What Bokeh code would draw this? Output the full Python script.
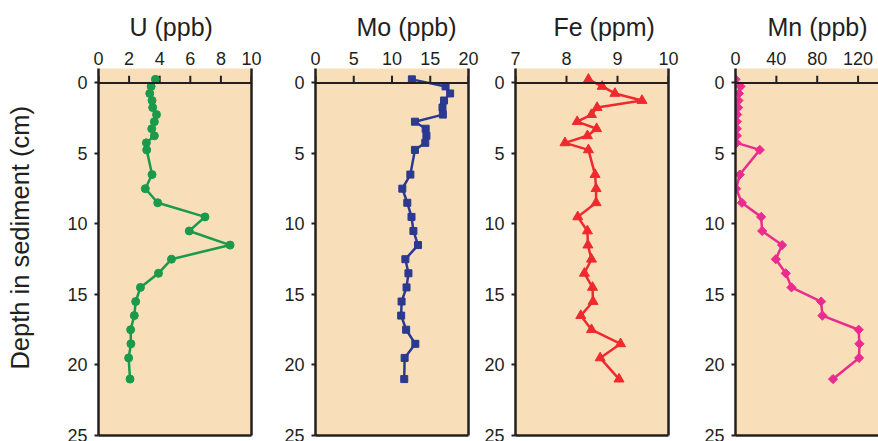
import math

from bokeh.plotting import figure
from bokeh.layouts import row
from bokeh.models import Range1d, LinearAxis, FixedTicker, Span
from bokeh.embed import file_html
from bokeh.resources import INLINE

# Sediment pore-water profiles: depth (cm) and concentrations
depth = [-0.25, 0.25, 0.75, 1.25, 1.75, 2.25, 2.75, 3.25, 3.75, 4.25, 4.75,
         6.5, 7.5, 8.5, 9.5, 10.5, 11.5, 12.5, 13.5, 14.5, 15.5, 16.5,
         17.5, 18.5, 19.5, 21.0]
u_ppb = [3.72, 3.44, 3.35, 3.5, 3.54, 3.79, 3.65, 3.48, 3.65, 3.13, 3.15,
         3.5, 3.06, 3.87, 6.96, 5.93, 8.6, 4.77, 3.92, 2.74, 2.43, 2.34,
         2.1, 2.12, 1.97, 2.06]
mo_ppb = [12.6, 17.0, 17.6, 16.8, 16.6, 16.65, 13.0, 14.4, 14.5, 14.35, 13.0,
          12.4, 11.35, 12.0, 12.55, 12.8, 13.4, 11.75, 12.15, 11.9, 11.25, 11.2,
          11.85, 13.05, 11.65, 11.6]
fe_ppm = [8.43, 8.70, 8.95, 9.48, 8.60, 8.49, 8.21, 8.59, 8.41, 7.97, 8.43,
          8.56, 8.58, 8.58, 8.22, 8.41, 8.42, 8.49, 8.35, 8.51, 8.52, 8.28,
          8.49, 9.06, 8.66, 9.03]
mn_ppb = [0.0, 4.9, 3.3, 2.9, 2.6, 1.6, 1.3, 1.3, 1.3, 1.0, 23.8,
          4.2, 0.65, 6.2, 25.1, 26.1, 45.6, 39.5, 49.2, 54.8, 83.8, 85.1,
          120.6, 121.3, 121.0, 95.5]

depth_ticks = [0, 5, 10, 15, 20, 25]
u_ticks = [0, 2, 4, 6, 8, 10]
mo_ticks = [0, 5, 10, 15, 20]
fe_ticks = [7, 8, 9, 10]
mn_ticks = [0, 40, 80, 120]

FONT = "Liberation Sans"
INK = "#231F20"
PAPER = "#F8DFBA"

# no-break spaces lift the depth label a little above the frame's centre
DEPTH_LABEL = "\u00a0" * 4 + "Depth in sediment (cm)"


def panel(title, values, x_start, x_end, ticks, color, marker, msize,
          left, frame_w, right, title_offset, first=False, right_edge=True,
          angle=0.0):
    p = figure(width=left + frame_w + right, height=441,
               x_range=Range1d(x_start, x_end), y_range=Range1d(25, -1.02),
               x_axis_location=None, y_axis_location=None,
               output_backend="svg", toolbar_location=None,
               min_border_left=left, min_border_right=right,
               min_border_top=68, min_border_bottom=6,
               background_fill_color=PAPER, border_fill_color="white",
               outline_line_color=None, title=title)
    p.grid.visible = False

    p.title.align = "left"
    p.title.offset = title_offset
    p.title.text_font = FONT
    p.title.text_font_size = "25px"
    p.title.text_font_style = "normal"
    p.title.text_color = INK
    p.title.standoff = 16

    yaxis = LinearAxis(ticker=FixedTicker(ticks=depth_ticks),
                       axis_line_width=2.5, axis_line_color=INK,
                       major_tick_line_width=2, major_tick_line_color=INK,
                       major_tick_out=4, major_tick_in=0,
                       minor_tick_line_color=None,
                       major_label_standoff=7,
                       major_label_text_font=FONT,
                       major_label_text_font_size="18px",
                       major_label_text_color=INK)
    if first:
        yaxis.axis_label = DEPTH_LABEL
        yaxis.axis_label_text_font = FONT
        yaxis.axis_label_text_font_size = "25.5px"
        yaxis.axis_label_text_font_style = "normal"
        yaxis.axis_label_text_color = INK
        yaxis.axis_label_standoff = 30
    p.add_layout(yaxis, "left")

    xaxis = LinearAxis(ticker=FixedTicker(ticks=ticks),
                       axis_line_color=None, major_tick_line_color=None,
                       major_tick_out=0, major_tick_in=0,
                       minor_tick_line_color=None,
                       major_label_standoff=4,
                       major_label_text_font=FONT,
                       major_label_text_font_size="18px",
                       major_label_text_color=INK)
    p.add_layout(xaxis, "above")

    bottom = LinearAxis(ticker=FixedTicker(ticks=[]), axis_line_width=2.5,
                        axis_line_color=INK, major_tick_line_color=None,
                        minor_tick_line_color=None,
                        major_label_text_font_size="0px")
    p.add_layout(bottom, "below")
    if right_edge:
        side = LinearAxis(ticker=FixedTicker(ticks=[]), axis_line_width=2.5,
                          axis_line_color=INK, major_tick_line_color=None,
                          minor_tick_line_color=None,
                          major_label_text_font_size="0px")
        p.add_layout(side, "right")

    # sediment-water interface with its upward tick marks
    p.add_layout(Span(location=0, dimension="width", line_color=INK,
                      line_width=2))
    p.segment(x0=ticks, y0=[0] * len(ticks), x1=ticks, y1=[-0.5] * len(ticks),
              line_color=INK, line_width=2)

    p.line(values, depth, line_color=color, line_width=2.5)
    p.scatter(values, depth, marker=marker, size=msize, angle=angle,
              fill_color=color, line_color=color)
    return p


p_u = panel("U (ppb)", u_ppb, 0, 10, u_ticks, "#1A9A4A", "circle", 8,
            98, 153, 19, 31, first=True)
p_mo = panel("Mo (ppb)", mo_ppb, 0, 20, mo_ticks, "#2B3990", "square", 7,
             45, 153, 12, 41)
p_fe = panel("Fe (ppm)", fe_ppm, 7, 10, fe_ticks, "#EE2A2F", "triangle", 10,
             35, 153, 22, 38)
p_mn = panel("Mn (ppb)", mn_ppb, 0, 140, mn_ticks, "#E92C8E", "square", 6.5,
             45, 143, 0, 32, right_edge=False, angle=math.pi / 4)

layout = row(p_u, p_mo, p_fe, p_mn)

open("out.html", "w").write(file_html(layout, INLINE))
